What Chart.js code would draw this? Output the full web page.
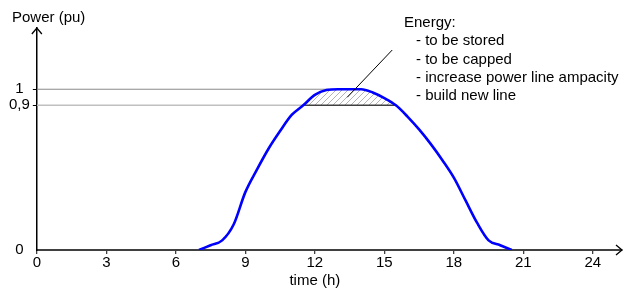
<!DOCTYPE html>
<html>
<head>
<meta charset="utf-8">
<script src="https://cdn.jsdelivr.net/npm/chart.js@4"></script>
<style>
  html, body { margin: 0; padding: 0; background: #fff; }
  #wrap { width: 623px; height: 291px; }
</style>
</head>
<body>
<div id="wrap"><canvas id="chart"></canvas></div>
<script>
const hours = [7, 7.5, 8, 8.5, 9, 9.5, 10, 10.5, 11, 11.5, 12, 12.5, 13, 13.5, 14, 14.5, 15, 15.5, 16, 16.5, 17, 17.5, 18, 18.5, 19, 19.5, 20, 20.5];
const power = [0, 0.03, 0.06, 0.16, 0.36, 0.5, 0.63, 0.74, 0.84, 0.9, 0.965, 0.995, 1, 1, 1, 0.98, 0.945, 0.9, 0.83, 0.75, 0.66, 0.56, 0.45, 0.31, 0.17, 0.06, 0.03, 0];
const xTicks = [0, 3, 6, 9, 12, 15, 18, 21, 24];
const yTicks = [0, 0.9, 1];
const capLevel = 0.9;
const ratedLevel = 1;
const capStart = 11.5, capEnd = 15.5, ratedReach = 12.6;
const noteLines = ["Energy:", "  - to be stored", "  - to be capped", "  - increase power line ampacity", "  - build new line"];
const calloutFrom = [15.34, 1.244], calloutTo = [13.4, 0.95];

const FONT = "'Liberation Sans', Arial, sans-serif";

function pts(xs, ys) { return xs.map((x, i) => ({ x: x, y: ys[i] })); }

const capped = pts(hours, power).filter(p => p.x >= capStart && p.x <= capEnd);

function hatch() {
  const c = document.createElement("canvas");
  c.width = 6; c.height = 6;
  const g = c.getContext("2d");
  g.strokeStyle = "#a0a0a0";
  g.lineWidth = 0.8;
  g.beginPath();
  g.moveTo(0, 6); g.lineTo(6, 0);
  g.moveTo(-1, 1); g.lineTo(1, -1);
  g.moveTo(5, 7); g.lineTo(7, 5);
  g.stroke();
  return g.createPattern(c, "repeat");
}

const decor = {
  id: "decor",
  afterDraw(chart) {
    const ctx = chart.ctx, xs = chart.scales.x, ys = chart.scales.y;
    const a = chart.chartArea;
    ctx.save();
    // axis arrows
    ctx.strokeStyle = "#000";
    ctx.lineWidth = 1.3;
    ctx.beginPath();
    ctx.moveTo(a.left - 5, a.top + 6); ctx.lineTo(a.left, a.top); ctx.lineTo(a.left + 5, a.top + 6);
    ctx.moveTo(a.right - 6, a.bottom - 5); ctx.lineTo(a.right, a.bottom); ctx.lineTo(a.right - 6, a.bottom + 5);
    ctx.stroke();
    // callout
    ctx.lineWidth = 1;
    ctx.beginPath();
    ctx.moveTo(xs.getPixelForValue(calloutFrom[0]), ys.getPixelForValue(calloutFrom[1]));
    ctx.lineTo(xs.getPixelForValue(calloutTo[0]), ys.getPixelForValue(calloutTo[1]));
    ctx.stroke();
    // texts
    ctx.fillStyle = "#000";
    ctx.font = "15px " + FONT;
    ctx.textBaseline = "middle";
    ctx.textAlign = "left";
    ctx.fillText("Power (pu)", 12, 18);
    noteLines.forEach((t, i) => {
      const x = i === 0 ? 404 : 416;
      ctx.fillText(t.trim(), x, 23 + i * 18.3);
    });
    ctx.textAlign = "center";
    ctx.fillText("time (h)", xs.getPixelForValue(12), 281);
    ctx.restore();
  }
};

new Chart(document.getElementById("chart"), {
  type: "line",
  data: {
    datasets: [
      {
        data: pts(hours, power), borderColor: "#0000ff", borderWidth: 2.6,
        pointRadius: 0, cubicInterpolationMode: "monotone", fill: false, order: 0
      },
      {
        data: capped, borderColor: "rgba(0,0,0,0)", borderWidth: 0, pointRadius: 0,
        cubicInterpolationMode: "monotone", fill: { value: capLevel }, backgroundColor: hatch(), order: 3
      },
      {
        data: [{ x: 0, y: ratedLevel }, { x: ratedReach, y: ratedLevel }], borderColor: "#8a8a8a",
        borderWidth: 1, pointRadius: 0, fill: false, order: 2
      },
      {
        data: [{ x: 0, y: capLevel }, { x: capStart, y: capLevel }], borderColor: "#c0c0c0",
        borderWidth: 1.5, pointRadius: 0, fill: false, order: 2
      },
      {
        data: [{ x: capStart, y: capLevel }, { x: capEnd, y: capLevel }], borderColor: "#404040",
        borderWidth: 1.6, pointRadius: 0, fill: false, order: 1
      }
    ]
  },
  options: {
    responsive: true,
    maintainAspectRatio: false,
    animation: false,
    events: [],
    layout: { padding: { top: 28, right: 1, left: 6, bottom: 19 } },
    plugins: { legend: { display: false }, tooltip: { enabled: false } },
    scales: {
      x: {
        type: "linear", min: 0, max: 25.26,
        afterBuildTicks: s => { s.ticks = xTicks.map(v => ({ value: v })); },
        grid: { drawOnChartArea: false, drawTicks: true, tickLength: 4, color: "#404040", lineWidth: 1.3 },
        border: { display: true, color: "#404040", width: 2 },
        ticks: { color: "#000", font: { family: FONT, size: 15 }, padding: 0, maxRotation: 0 }
      },
      y: {
        type: "linear", min: 0, max: 1.381,
        afterBuildTicks: s => { s.ticks = yTicks.map(v => ({ value: v })); },
        grid: { drawOnChartArea: false, drawTicks: true, tickLength: 4, color: c => c.tick && c.tick.value === 0 ? "rgba(0,0,0,0)" : "#000", lineWidth: 1 },
        border: { display: true, color: "#000", width: 1.5 },
        ticks: {
          color: "#000", font: { family: FONT, size: 15 }, padding: 3, crossAlign: "center",
          callback: v => String(v).replace(".", ",")
        }
      }
    }
  },
  plugins: [decor]
});
</script>
</body>
</html>
